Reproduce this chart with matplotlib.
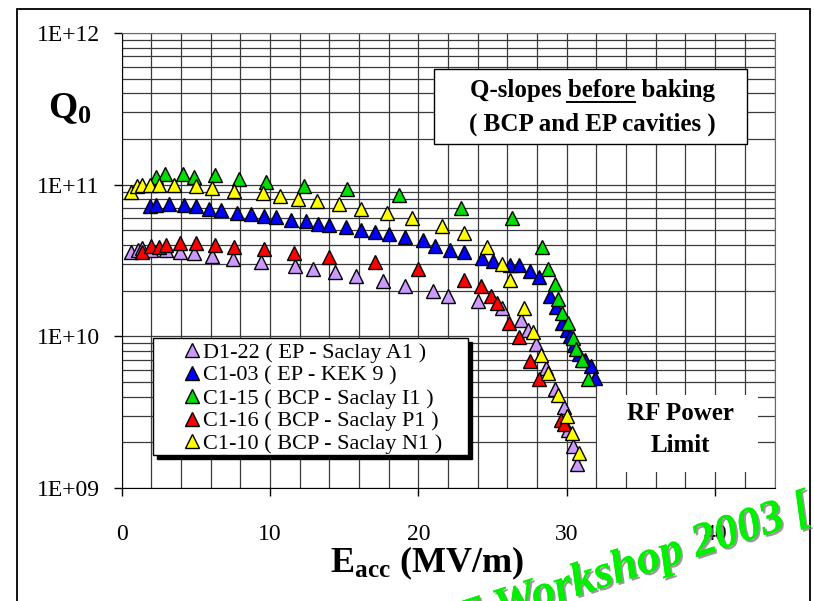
import matplotlib
matplotlib.use('Agg')
import matplotlib.pyplot as plt
from matplotlib import ticker, patheffects
from matplotlib.patches import Rectangle
from matplotlib.lines import Line2D
from matplotlib.font_manager import FontProperties
import numpy as np

plt.rcParams['font.family'] = 'Liberation Serif'
plt.rcParams['mathtext.fontset'] = 'custom'
plt.rcParams['mathtext.rm'] = 'Liberation Serif'
plt.rcParams['mathtext.bf'] = 'Liberation Serif:bold'
plt.rcParams['mathtext.it'] = 'Liberation Serif:italic'

# Q0 vs Eacc
labels = ['D1-22 ( EP - Saclay A1 )', 'C1-03 ( EP - KEK 9 )', 'C1-15 ( BCP - Saclay I1 )',
          'C1-16 ( BCP - Saclay P1 )', 'C1-10 ( BCP - Saclay N1 )']
colors = ['#CC99FF', '#0000FF', '#00E000', '#FF0000', '#FFFF00']

e_d122 = [0.6, 1.1, 1.4, 2.0, 3.0, 3.9, 4.9, 6.1, 7.5, 9.4, 11.7, 12.9, 14.4, 15.8, 17.6,
          19.1, 21.0, 22.0, 24.0, 25.6, 26.9, 27.4, 27.9, 28.6, 29.2, 29.8, 30.1, 30.4, 30.7]
q_d122 = [3.6e10, 3.7e10, 3.8e10, 3.7e10, 3.7e10, 3.6e10, 3.55e10, 3.4e10, 3.25e10, 3.1e10,
          2.9e10, 2.8e10, 2.65e10, 2.5e10, 2.3e10, 2.15e10, 2.0e10, 1.85e10, 1.7e10, 1.53e10,
          1.28e10, 1.1e10, 8.9e9, 6.2e9, 4.5e9, 3.4e9, 2.4e9, 1.9e9, 1.45e9]

e_c103 = [1.9, 2.3, 3.2, 4.2, 5.0, 5.9, 6.7, 7.8, 8.7, 9.6, 10.4, 11.4, 12.4, 13.2, 14.0,
          15.1, 16.1, 17.1, 18.0, 19.1, 20.3, 21.1, 22.1, 23.1, 24.3, 25.0, 26.2, 26.8, 27.5,
          28.1, 28.9, 29.3, 29.7, 30.0, 30.2, 30.5, 30.8, 31.2, 31.6, 31.9]
q_c103 = [7.2e10, 7.3e10, 7.45e10, 7.35e10, 7.25e10, 6.95e10, 6.85e10, 6.55e10, 6.4e10,
          6.25e10, 6.1e10, 5.85e10, 5.8e10, 5.5e10, 5.4e10, 5.25e10, 5.05e10, 4.85e10,
          4.75e10, 4.5e10, 4.3e10, 3.95e10, 3.7e10, 3.6e10, 3.3e10, 3.15e10, 2.95e10,
          2.95e10, 2.7e10, 2.45e10, 1.85e10, 1.55e10, 1.22e10, 1.1e10, 1.0e10, 8.8e9,
          7.7e9, 7.0e9, 6.4e9, 5.3e9]

e_c115 = [2.3, 2.9, 4.1, 4.9, 6.3, 7.9, 9.7, 12.3, 15.2, 18.7, 22.9, 26.3, 28.3, 28.7,
          29.2, 29.4, 29.7, 30.1, 30.4, 30.6, 31.0, 31.4]
q_c115 = [1.13e11, 1.17e11, 1.17e11, 1.13e11, 1.15e11, 1.09e11, 1.04e11, 9.85e10, 9.4e10,
          8.5e10, 7.0e10, 6.0e10, 3.9e10, 2.8e10, 2.2e10, 1.75e10, 1.42e10, 1.22e10, 9.7e9,
          8.2e9, 7.0e9, 5.2e9]

e_c116 = [1.4, 2.0, 2.5, 3.0, 3.9, 5.0, 6.3, 7.6, 9.6, 11.6, 14.0, 17.1, 20.0, 23.1, 24.2,
          24.9, 25.3, 26.1, 26.8, 27.5, 28.1, 29.6, 29.8]
q_c116 = [3.6e10, 3.95e10, 3.9e10, 4.0e10, 4.1e10, 4.1e10, 4.0e10, 3.9e10, 3.75e10, 3.55e10,
          3.35e10, 3.1e10, 2.8e10, 2.35e10, 2.15e10, 1.85e10, 1.65e10, 1.22e10, 9.9e9, 6.9e9,
          5.2e9, 2.8e9, 2.65e9]

e_c110 = [0.6, 1.0, 1.35, 1.9, 2.5, 3.55, 5.0, 6.1, 7.6, 9.5, 10.7, 11.9, 13.15, 14.65,
          16.1, 17.9, 19.6, 21.6, 23.1, 24.65, 25.6, 26.2, 27.1, 27.7, 28.25, 28.7, 29.4,
          30.0, 30.35, 30.8]
q_c110 = [9.0e10, 9.75e10, 9.9e10, 1.0e11, 1.0e11, 1.0e11, 9.75e10, 9.5e10, 9.1e10, 8.8e10,
          8.4e10, 8.05e10, 7.75e10, 7.45e10, 6.9e10, 6.55e10, 6.0e10, 5.35e10, 4.8e10, 3.9e10,
          3.0e10, 2.35e10, 1.53e10, 1.06e10, 7.5e9, 5.7e9, 4.1e9, 3.0e9, 2.3e9, 1.7e9]

series_e = [e_d122, e_c103, e_c115, e_c116, e_c110]
series_q = [q_d122, q_c103, q_c115, q_c116, q_c110]

W, H = 814, 601


def fx(px):
    return px / W


def fy(py):
    return 1 - py / H


fig = plt.figure(figsize=(W / 100, H / 100), dpi=100)
ax = fig.add_axes([fx(121.7), fy(488), fx(774.5) - fx(121.7), fy(33) - fy(488)])

handles = []
for e, q, c, lab in zip(series_e, series_q, colors, labels):
    h, = ax.plot(e, q, linestyle='none', marker='^', ms=9.5, mfc=c, mec='black',
                 mew=1.0, label=lab)
    handles.append(h)

ax.set_yscale('log')
ax.set_xlim(0, 44)
ax.set_ylim(1e9, 1e12)
ax.xaxis.set_major_locator(ticker.MultipleLocator(10))
ax.xaxis.set_minor_locator(ticker.MultipleLocator(2))
ax.yaxis.set_major_locator(ticker.LogLocator(base=10, numticks=10))
ax.yaxis.set_minor_locator(ticker.LogLocator(base=10, subs=np.arange(2, 10), numticks=30))
ax.yaxis.set_major_formatter(ticker.FuncFormatter(lambda v, p: '1E+%02d' % round(np.log10(v))))
ax.yaxis.set_minor_formatter(ticker.NullFormatter())

ax.set_axisbelow(True)
ax.grid(which='both', color='#3a3a3a', linewidth=0.9)
ax.tick_params(which='minor', length=0)
ax.tick_params(axis='x', which='major', direction='out', length=5.8, width=1,
               labelsize=17, pad=20)
ax.tick_params(axis='y', which='major', direction='out', length=5.8, width=1,
               labelsize=17, pad=10)
for s in ['left', 'bottom']:
    ax.spines[s].set_color('black')
for s in ['top', 'right']:
    ax.spines[s].set_color('#6a6a6a')

# axis titles
fig.text(fx(48), fy(118), r'$\mathbf{Q}_\mathbf{0}$', fontsize=27, va='baseline', ha='left')
fig.text(fx(330), fy(572), r'$\mathbf{E}_\mathbf{acc}$ (MV/m)', fontsize=26,
         fontweight='bold', va='baseline', ha='left')

# title box
fig.patches.append(Rectangle((fx(434), fy(144)), fx(747) - fx(434), (144 - 69) / H,
                             transform=fig.transFigure, facecolor='white',
                             edgecolor='black', linewidth=1.0, zorder=2))
line1 = 'Q-slopes before baking'
fig.text(fx(592), fy(96.7), line1, fontsize=18, fontweight='bold', ha='center',
         va='baseline', zorder=3)
fig.text(fx(592), fy(131), '( BCP and EP cavities )', fontsize=18, fontweight='bold',
         ha='center', va='baseline', zorder=3)

# RF power limit note
fig.patches.append(Rectangle((fx(597), fy(472)), fx(758) - fx(597), (472 - 395) / H,
                             transform=fig.transFigure, facecolor='white',
                             edgecolor='none', zorder=2))
fig.text(fx(680), fy(420), 'RF Power', fontsize=18, fontweight='bold', ha='center',
         va='baseline', zorder=3)
fig.text(fx(680), fy(452), 'Limit', fontsize=18, fontweight='bold', ha='center',
         va='baseline', zorder=3)

# legend with an offset black shadow
lx0, ly0, lx1, ly1 = 153, 338, 468, 455
fig.patches.append(Rectangle((fx(lx0 + 4), fy(ly1 + 4)), fx(lx1) - fx(lx0), (ly1 - ly0) / H,
                             transform=fig.transFigure, facecolor='black',
                             edgecolor='black', zorder=2))
fig.patches.append(Rectangle((fx(lx0), fy(ly1)), fx(lx1) - fx(lx0), (ly1 - ly0) / H,
                             transform=fig.transFigure, facecolor='white',
                             edgecolor='black', linewidth=1.0, zorder=2.5))
fig.legend(handles, labels, loc='center left', bbox_to_anchor=(fx(183), fy(398.4)),
           frameon=False, borderpad=0, borderaxespad=0, handlelength=0.8,
           handletextpad=0.1, labelspacing=0.1, fontsize=16)

# outer frame
fig.patches.append(Rectangle((fx(17), fy(700)), fx(810) - fx(17), (700 - 9) / H,
                             transform=fig.transFigure, fill=False, edgecolor='black',
                             linewidth=1.3, zorder=1))

# underline of "before" and placement of the watermark need text widths
fig.canvas.draw()
rend = fig.canvas.get_renderer()


def textw(s, size, weight='bold', style='normal'):
    fp = FontProperties(family='Liberation Serif', size=size, weight=weight, style=style)
    w, h, d = rend.get_text_width_height_descent(s, fp, ismath=False)
    return w


full = textw(line1, 18)
left = 592 - full / 2
b1 = left + textw('Q-slopes before', 18)
b0 = b1 - textw('before', 18)
fig.lines.append(Line2D([fx(b0), fx(b1)], [fy(101.5), fy(101.5)], color='black',
                        linewidth=1.4, transform=fig.transFigure, zorder=3))

# watermark
ang = 18
wsize = 34
pre = textw('SRF Workshop 2', wsize, style='italic') - textw('2', wsize, style='italic')
ax0 = 697 - pre * np.cos(np.radians(ang))
ay0 = (H - 557) - pre * np.sin(np.radians(ang))
fig.text(ax0 / W, ay0 / H, 'SRF Workshop 2003 [', fontsize=wsize, fontweight='bold',
         fontstyle='italic', color='#00F000', rotation=ang, rotation_mode='anchor',
         ha='left', va='baseline', zorder=10,
         path_effects=[patheffects.withSimplePatchShadow(offset=(1.5, -1.5),
                                                         shadow_rgbFace='#808080',
                                                         alpha=0.8),
                       patheffects.Normal()])

fig.savefig('out.png', dpi=100)
